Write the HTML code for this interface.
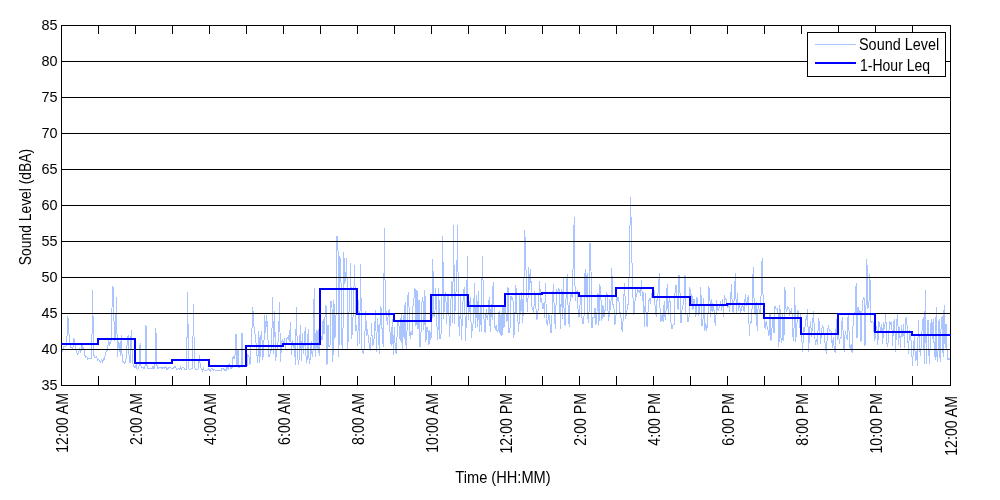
<!DOCTYPE html>
<html><head><meta charset="utf-8"><style>
html,body{margin:0;padding:0;background:#fff;width:1000px;height:500px;overflow:hidden}
svg{position:absolute;left:0;top:0}
text{font-family:"Liberation Sans",sans-serif;font-size:16px;fill:#000}
</style></head><body>
<svg width="1000" height="500" viewBox="0 0 1000 500">
<rect x="0" y="0" width="1000" height="500" fill="#fff"/>
<polyline fill="none" stroke="#aac4ff" stroke-width="1" shape-rendering="crispEdges" points="61.0,353.7 62.0,352.4 63.0,349.3 64.0,346.5 65.0,346.2 65.9,347.1 66.9,338.2 67.9,316.0 68.9,332.5 69.9,344.7 70.9,347.9 71.9,346.9 72.9,348.6 73.9,338.1 74.8,344.1 75.8,348.2 76.8,352.8 77.8,354.3 78.8,351.5 79.8,347.9 80.8,353.0 81.8,344.5 82.8,349.1 83.7,346.7 84.7,355.0 85.7,356.9 86.7,356.3 87.7,359.3 88.7,358.3 89.7,358.7 90.7,359.0 91.7,357.8 92.6,290.0 93.6,353.9 94.6,357.7 95.6,358.0 96.6,356.9 97.6,360.3 98.6,359.8 99.6,361.1 100.6,362.1 101.5,360.4 102.5,362.2 103.5,358.9 104.5,359.2 105.5,353.6 106.5,349.9 107.5,350.8 108.5,339.7 109.5,345.0 110.4,343.4 111.4,339.3 112.4,287.0 113.4,288.0 114.4,341.1 115.4,337.9 116.4,297.0 117.4,357.0 118.4,342.2 119.3,343.7 120.3,355.9 121.3,335.0 122.3,362.0 123.3,361.5 124.3,363.1 125.3,362.3 126.3,358.3 127.3,340.0 128.2,335.0 129.2,359.1 130.2,363.4 131.2,330.0 132.2,354.8 133.2,366.1 134.2,366.0 135.2,367.8 136.2,364.9 137.1,369.0 138.1,369.0 139.1,365.5 140.1,343.0 141.1,368.1 142.1,367.4 143.1,367.4 144.1,368.9 145.1,365.3 146.0,325.0 147.0,365.5 148.0,368.4 149.0,369.0 150.0,368.9 151.0,367.8 152.0,368.6 153.0,366.1 154.0,368.8 154.9,368.7 155.9,328.0 156.9,365.2 157.9,368.5 158.9,367.3 159.9,367.9 160.9,367.4 161.9,368.5 162.9,367.3 163.8,367.3 164.8,368.7 165.8,366.4 166.8,369.0 167.8,369.0 168.8,367.2 169.8,367.1 170.8,367.9 171.8,368.3 172.7,369.0 173.7,368.1 174.7,366.6 175.7,367.1 176.7,369.2 177.7,369.2 178.7,368.6 179.7,369.1 180.7,367.1 181.6,369.1 182.6,367.2 183.6,367.2 184.6,369.1 185.6,369.7 186.6,369.6 187.6,292.0 188.6,368.4 189.6,369.3 190.5,369.4 191.5,368.4 192.5,368.0 193.5,304.0 194.5,366.9 195.5,368.8 196.5,369.9 197.5,369.8 198.5,368.7 199.4,355.0 200.4,367.8 201.4,368.4 202.4,370.5 203.4,368.1 204.4,370.7 205.4,370.4 206.4,370.8 207.4,369.8 208.3,368.7 209.3,369.7 210.3,371.0 211.3,368.2 212.3,368.3 213.3,370.5 214.3,369.1 215.3,370.6 216.3,370.8 217.2,370.8 218.2,371.0 219.2,370.6 220.2,370.8 221.2,370.4 222.2,368.1 223.2,368.2 224.2,370.9 225.2,369.2 226.1,370.6 227.1,365.8 228.1,369.8 229.1,363.0 230.1,365.5 231.1,369.2 232.1,367.3 233.1,356.0 234.1,358.7 235.0,355.2 236.0,334.0 237.0,365.7 238.0,349.5 239.0,367.4 240.0,366.7 241.0,366.7 242.0,333.0 243.0,365.0 243.9,365.3 244.9,366.4 245.9,367.0 246.9,366.9 247.9,355.0 248.9,356.0 249.9,365.4 250.9,349.3 251.9,331.3 252.8,307.0 253.8,325.9 254.8,332.6 255.8,340.2 256.8,353.5 257.8,362.9 258.8,331.0 259.8,362.6 260.8,336.7 261.7,331.0 262.7,359.8 263.7,351.0 264.7,315.0 265.7,333.0 266.7,315.0 267.7,332.6 268.7,356.2 269.7,356.3 270.6,351.0 271.6,349.5 272.6,297.0 273.6,354.3 274.6,311.0 275.6,360.6 276.6,351.7 277.6,345.7 278.6,336.2 279.5,302.0 280.5,361.8 281.5,344.0 282.5,338.9 283.5,345.0 284.5,338.2 285.5,349.3 286.5,338.5 287.5,338.0 288.4,336.0 289.4,341.7 290.4,322.0 291.4,354.5 292.4,339.9 293.4,346.6 294.4,344.3 295.4,364.6 296.4,307.0 297.3,348.7 298.3,364.7 299.3,358.6 300.3,325.0 301.3,360.5 302.3,333.5 303.3,353.9 304.3,342.1 305.3,327.0 306.2,363.3 307.2,358.9 308.2,329.0 309.2,363.8 310.2,358.9 311.2,341.3 312.2,357.0 313.2,349.4 314.2,288.0 315.1,356.6 316.1,330.4 317.1,349.5 318.1,329.5 319.1,355.5 320.1,322.2 321.1,337.5 322.1,339.7 323.1,319.0 324.0,333.9 325.0,317.5 326.0,304.8 327.0,364.5 328.0,325.0 329.0,347.0 330.0,345.9 331.0,301.3 332.0,308.1 332.9,361.5 333.9,299.6 334.9,338.6 335.9,325.6 336.9,236.0 337.9,238.0 338.9,356.9 339.9,256.0 340.9,274.3 341.8,344.1 342.8,349.3 343.8,252.0 344.8,283.6 345.8,276.0 346.8,258.0 347.8,348.9 348.8,315.4 349.8,296.7 350.7,263.0 351.7,339.0 352.7,327.0 353.7,295.6 354.7,265.0 355.7,331.0 356.7,324.8 357.7,345.5 358.7,300.4 359.6,344.3 360.6,264.0 361.6,346.1 362.6,352.7 363.6,353.2 364.6,346.1 365.6,310.7 366.6,335.7 367.6,329.4 368.5,340.8 369.5,345.7 370.5,351.1 371.5,323.0 372.5,345.3 373.5,344.7 374.5,333.9 375.5,309.7 376.5,352.4 377.4,317.8 378.4,330.0 379.4,353.8 380.4,306.5 381.4,308.6 382.4,340.8 383.4,346.5 384.4,228.0 385.4,313.1 386.3,312.2 387.3,324.7 388.3,314.0 389.3,308.8 390.3,341.4 391.3,345.5 392.3,319.4 393.3,354.5 394.3,326.7 395.2,346.8 396.2,354.2 397.2,332.8 398.2,319.7 399.2,327.7 400.2,341.4 401.2,313.2 402.2,350.1 403.2,315.3 404.1,339.3 405.1,302.0 406.1,349.4 407.1,329.1 408.1,292.0 409.1,308.3 410.1,339.1 411.1,331.6 412.1,335.0 413.0,306.3 414.0,298.2 415.0,288.0 416.0,325.8 417.0,290.0 418.0,329.1 419.0,299.7 420.0,347.1 421.0,332.2 421.9,303.1 422.9,297.2 423.9,329.6 424.9,290.0 425.9,341.9 426.9,326.7 427.9,329.8 428.9,345.4 429.9,330.4 430.8,339.8 431.8,333.3 432.8,259.0 433.8,315.6 434.8,316.5 435.8,288.3 436.8,323.5 437.8,340.4 438.8,287.9 439.7,338.1 440.7,339.0 441.7,323.6 442.7,236.0 443.7,319.2 444.7,297.0 445.7,292.1 446.7,324.1 447.7,293.8 448.6,300.0 449.6,337.0 450.6,311.5 451.6,280.8 452.6,322.7 453.6,225.0 454.6,324.4 455.6,292.7 456.6,290.1 457.5,225.0 458.5,317.0 459.5,335.7 460.5,296.0 461.5,340.2 462.5,313.2 463.5,290.1 464.5,288.4 465.5,341.4 466.4,317.8 467.4,256.0 468.4,320.4 469.4,307.4 470.4,296.8 471.4,337.5 472.4,327.1 473.4,322.0 474.4,283.0 475.3,327.8 476.3,295.1 477.3,326.6 478.3,290.6 479.3,332.0 480.3,305.8 481.3,332.3 482.3,256.0 483.3,289.7 484.2,326.5 485.2,333.3 486.2,309.0 487.2,319.8 488.2,314.2 489.2,297.1 490.2,331.9 491.2,304.3 492.2,319.8 493.1,282.0 494.1,308.6 495.1,330.0 496.1,325.3 497.1,331.2 498.1,330.7 499.1,310.9 500.1,335.0 501.1,312.6 502.0,335.5 503.0,305.2 504.0,328.3 505.0,293.9 506.0,313.5 507.0,321.7 508.0,287.0 509.0,332.6 509.9,332.5 510.9,295.8 511.9,299.6 512.9,296.7 513.9,337.5 514.9,316.0 515.9,285.0 516.9,312.8 517.9,320.3 518.8,332.0 519.8,295.5 520.8,315.2 521.8,292.5 522.8,322.9 523.8,289.5 524.8,230.0 525.8,262.0 526.8,298.7 527.7,312.1 528.7,267.0 529.7,289.7 530.7,269.0 531.7,306.3 532.7,307.8 533.7,313.5 534.7,291.2 535.7,303.2 536.6,319.6 537.6,316.9 538.6,301.6 539.6,281.0 540.6,301.0 541.6,299.3 542.6,308.7 543.6,303.1 544.6,318.1 545.5,283.0 546.5,322.3 547.5,326.0 548.5,314.3 549.5,315.5 550.5,332.4 551.5,332.1 552.5,297.8 553.5,284.0 554.4,316.9 555.4,329.1 556.4,289.0 557.4,293.4 558.4,289.0 559.4,289.4 560.4,328.6 561.4,289.0 562.4,319.3 563.3,277.0 564.3,320.1 565.3,326.3 566.3,288.9 567.3,274.0 568.3,317.6 569.3,326.6 570.3,292.4 571.3,293.0 572.2,298.0 573.2,262.0 574.2,217.0 575.2,301.4 576.2,292.5 577.2,290.2 578.2,313.3 579.2,317.3 580.2,302.4 581.1,295.4 582.1,320.2 583.1,323.9 584.1,314.7 585.1,269.0 586.1,298.1 587.1,273.0 588.1,323.1 589.1,310.7 590.0,243.0 591.0,271.0 592.0,328.0 593.0,317.0 594.0,318.0 595.0,308.0 596.0,324.5 597.0,311.6 598.0,293.0 598.9,325.7 599.9,284.0 600.9,297.5 601.9,320.8 602.9,304.7 603.9,317.3 604.9,312.2 605.9,297.8 606.9,292.2 607.8,308.4 608.8,321.4 609.8,299.0 610.8,310.0 611.8,268.0 612.8,304.9 613.8,304.8 614.8,325.4 615.8,320.8 616.7,294.9 617.7,300.9 618.7,296.7 619.7,313.3 620.7,312.8 621.7,328.9 622.7,330.8 623.7,299.3 624.7,283.0 625.6,318.7 626.6,312.3 627.6,307.1 628.6,301.0 629.6,245.0 630.6,197.0 631.6,245.0 632.6,287.5 633.6,313.9 634.5,312.9 635.5,289.2 636.5,297.3 637.5,288.2 638.5,291.6 639.5,290.6 640.5,296.1 641.5,280.0 642.5,301.0 643.4,291.6 644.4,326.5 645.4,292.7 646.4,324.5 647.4,326.1 648.4,303.4 649.4,297.8 650.4,303.7 651.4,295.1 652.3,291.6 653.3,292.8 654.3,289.7 655.3,311.3 656.3,316.8 657.3,293.9 658.3,292.7 659.3,273.0 660.3,321.9 661.2,321.0 662.2,313.2 663.2,322.3 664.2,301.5 665.2,320.4 666.2,309.4 667.2,284.0 668.2,314.9 669.2,298.3 670.1,301.8 671.1,325.0 672.1,328.8 673.1,324.4 674.1,324.4 675.1,289.8 676.1,285.0 677.1,297.0 678.1,310.1 679.0,275.0 680.0,293.0 681.0,323.2 682.0,310.2 683.0,305.0 684.0,299.5 685.0,275.0 686.0,313.7 687.0,312.8 687.9,321.4 688.9,320.6 689.9,287.0 690.9,305.1 691.9,293.6 692.9,310.1 693.9,298.9 694.9,302.7 695.9,317.4 696.8,297.2 697.8,300.8 698.8,316.0 699.8,308.0 700.8,287.0 701.8,325.6 702.8,325.5 703.8,297.6 704.8,330.8 705.7,323.1 706.7,328.9 707.7,326.6 708.7,286.0 709.7,293.9 710.7,317.2 711.7,298.7 712.7,311.9 713.7,304.5 714.6,321.6 715.6,325.7 716.6,299.8 717.6,309.5 718.6,310.3 719.6,305.8 720.6,301.0 721.6,310.7 722.6,299.4 723.5,317.0 724.5,295.3 725.5,299.9 726.5,300.0 727.5,308.0 728.5,302.8 729.5,311.8 730.5,300.4 731.5,284.0 732.4,310.8 733.4,313.2 734.4,292.7 735.4,273.0 736.4,314.3 737.4,292.7 738.4,310.9 739.4,301.7 740.4,312.0 741.3,310.7 742.3,304.0 743.3,307.4 744.3,312.0 745.3,294.1 746.3,305.7 747.3,302.4 748.3,295.1 749.3,335.5 750.2,321.7 751.2,322.1 752.2,306.3 753.2,267.0 754.2,304.3 755.2,314.8 756.2,302.2 757.2,331.1 758.2,304.1 759.1,309.4 760.1,312.9 761.1,294.2 762.1,258.0 763.1,296.9 764.1,320.2 765.1,328.9 766.1,321.1 767.1,326.3 768.0,330.0 769.0,335.9 770.0,312.7 771.0,340.5 772.0,328.0 773.0,319.1 774.0,333.4 775.0,305.9 776.0,308.8 776.9,309.3 777.9,308.6 778.9,347.1 779.9,305.1 780.9,337.8 781.9,343.0 782.9,313.1 783.9,341.0 784.9,287.0 785.8,307.9 786.8,311.5 787.8,306.7 788.8,307.7 789.8,314.3 790.8,312.5 791.8,307.7 792.8,335.5 793.8,340.5 794.7,287.0 795.7,341.5 796.7,328.3 797.7,310.3 798.7,313.3 799.7,328.2 800.7,312.7 801.7,336.9 802.7,351.6 803.6,326.8 804.6,331.5 805.6,320.0 806.6,318.9 807.6,309.0 808.6,351.9 809.6,329.7 810.6,321.5 811.6,337.2 812.5,324.8 813.5,311.0 814.5,333.9 815.5,344.7 816.5,339.4 817.5,345.0 818.5,318.0 819.5,323.4 820.5,343.9 821.4,333.1 822.4,324.7 823.4,328.6 824.4,335.1 825.4,347.6 826.4,353.6 827.4,333.7 828.4,325.4 829.4,331.6 830.3,330.6 831.3,331.5 832.3,347.6 833.3,336.9 834.3,350.2 835.3,353.1 836.3,318.7 837.3,340.1 838.3,322.1 839.2,343.7 840.2,337.6 841.2,337.7 842.2,317.1 843.2,332.2 844.2,351.9 845.2,331.4 846.2,335.6 847.2,339.5 848.1,315.0 849.1,332.7 850.1,349.2 851.1,344.3 852.1,352.6 853.1,323.1 854.1,312.0 855.1,315.4 856.1,283.0 857.0,338.4 858.0,307.0 859.0,314.9 860.0,310.2 861.0,341.7 862.0,311.4 863.0,299.9 864.0,297.3 865.0,345.8 865.9,310.6 866.9,259.0 867.9,308.7 868.9,304.3 869.9,274.0 870.9,321.7 871.9,322.2 872.9,320.9 873.9,330.2 874.8,341.4 875.8,327.7 876.8,326.3 877.8,345.1 878.8,321.4 879.8,324.9 880.8,333.4 881.8,323.6 882.8,343.8 883.7,321.7 884.7,328.8 885.7,313.0 886.7,342.8 887.7,346.8 888.7,333.6 889.7,321.2 890.7,324.3 891.7,322.0 892.6,345.9 893.6,322.8 894.6,318.8 895.6,352.0 896.6,322.9 897.6,313.0 898.6,345.0 899.6,327.4 900.6,348.0 901.5,325.4 902.5,337.3 903.5,323.6 904.5,347.6 905.5,319.2 906.5,318.0 907.5,331.3 908.5,353.5 909.5,329.6 910.4,337.6 911.4,341.1 912.4,366.1 913.4,349.1 914.4,336.2 915.4,360.8 916.4,351.0 917.4,366.0 918.4,319.7 919.3,343.2 920.3,355.6 921.3,345.5 922.3,324.8 923.3,317.3 924.3,363.6 925.3,290.0 926.3,364.0 927.3,322.8 928.2,319.6 929.2,364.1 930.2,346.9 931.2,318.6 932.2,339.3 933.2,318.6 934.2,347.7 935.2,359.6 936.2,307.0 937.1,362.2 938.1,350.3 939.1,318.6 940.1,362.1 941.1,326.0 942.1,315.7 943.1,356.7 944.1,305.0 945.1,348.0 946.0,323.6 947.0,349.6 948.0,360.2 949.0,358.0 950.0,359.8"/>
<path d="M61 349.5H951M61 313.5H951M61 277.5H951M61 241.5H951M61 205.5H951M61 169.5H951M61 133.5H951M61 97.5H951M61 61.5H951M98.5 25v9M98.5 386v-10M135.5 25v9M135.5 386v-10M172.5 25v9M172.5 386v-10M209.5 25v9M209.5 386v-10M246.5 25v9M246.5 386v-10M283.5 25v9M283.5 386v-10M320.5 25v9M320.5 386v-10M357.5 25v9M357.5 386v-10M394.5 25v9M394.5 386v-10M431.5 25v9M431.5 386v-10M468.5 25v9M468.5 386v-10M505.5 25v9M505.5 386v-10M542.5 25v9M542.5 386v-10M579.5 25v9M579.5 386v-10M616.5 25v9M616.5 386v-10M653.5 25v9M653.5 386v-10M690.5 25v9M690.5 386v-10M727.5 25v9M727.5 386v-10M764.5 25v9M764.5 386v-10M801.5 25v9M801.5 386v-10M838.5 25v9M838.5 386v-10M875.5 25v9M875.5 386v-10M912.5 25v9M912.5 386v-10M61.5 25V386M950.5 25V386M61 25.5H951M61 385.5H951" stroke="#000" stroke-width="1" fill="none" shape-rendering="crispEdges"/>
<polyline fill="none" stroke="#0000ff" stroke-width="2" stroke-linejoin="miter" shape-rendering="crispEdges" points="61,344 98,344 98,339 135,339 135,363 172,363 172,360 209,360 209,366 246,366 246,346 283,346 283,344 320,344 320,289 357,289 357,314 394,314 394,321 431,321 431,295 468,295 468,306 505,306 505,294 542,294 542,293 579,293 579,296 616,296 616,288 653,288 653,297 690,297 690,305 727,305 727,304 764,304 764,318 801,318 801,334 838,334 838,314 875,314 875,332 912,332 912,335 951,335"/>
<rect x="807.5" y="32.5" width="138" height="44" fill="#fff" stroke="#000" stroke-width="1" shape-rendering="crispEdges"/>
<path d="M815 44.5H856" stroke="#aac4ff" stroke-width="1" shape-rendering="crispEdges"/>
<path d="M815 63H856" stroke="#0000ff" stroke-width="2" shape-rendering="crispEdges"/>
</svg>
<svg width="1000" height="500" viewBox="0 0 1000 500" style="will-change:transform">
<text style="font-size:15.5px" x="57.5" y="389.6" text-anchor="end" textLength="16.05" lengthAdjust="spacingAndGlyphs">35</text>
<text style="font-size:15.5px" x="57.5" y="353.6" text-anchor="end" textLength="16.05" lengthAdjust="spacingAndGlyphs">40</text>
<text style="font-size:15.5px" x="57.5" y="317.6" text-anchor="end" textLength="16.05" lengthAdjust="spacingAndGlyphs">45</text>
<text style="font-size:15.5px" x="57.5" y="281.6" text-anchor="end" textLength="16.05" lengthAdjust="spacingAndGlyphs">50</text>
<text style="font-size:15.5px" x="57.5" y="245.6" text-anchor="end" textLength="16.05" lengthAdjust="spacingAndGlyphs">55</text>
<text style="font-size:15.5px" x="57.5" y="209.6" text-anchor="end" textLength="16.05" lengthAdjust="spacingAndGlyphs">60</text>
<text style="font-size:15.5px" x="57.5" y="173.6" text-anchor="end" textLength="16.05" lengthAdjust="spacingAndGlyphs">65</text>
<text style="font-size:15.5px" x="57.5" y="137.6" text-anchor="end" textLength="16.05" lengthAdjust="spacingAndGlyphs">70</text>
<text style="font-size:15.5px" x="57.5" y="101.6" text-anchor="end" textLength="16.05" lengthAdjust="spacingAndGlyphs">75</text>
<text style="font-size:15.5px" x="57.5" y="65.6" text-anchor="end" textLength="16.05" lengthAdjust="spacingAndGlyphs">80</text>
<text style="font-size:15.5px" x="57.5" y="29.6" text-anchor="end" textLength="16.05" lengthAdjust="spacingAndGlyphs">85</text>
<text transform="translate(67.5,393) rotate(-90)" text-anchor="end" textLength="59.75" lengthAdjust="spacingAndGlyphs">12:00 AM</text>
<text transform="translate(141.5,393) rotate(-90)" text-anchor="end" textLength="51.89" lengthAdjust="spacingAndGlyphs">2:00 AM</text>
<text transform="translate(215.5,393) rotate(-90)" text-anchor="end" textLength="51.89" lengthAdjust="spacingAndGlyphs">4:00 AM</text>
<text transform="translate(289.5,393) rotate(-90)" text-anchor="end" textLength="51.89" lengthAdjust="spacingAndGlyphs">6:00 AM</text>
<text transform="translate(363.5,393) rotate(-90)" text-anchor="end" textLength="51.89" lengthAdjust="spacingAndGlyphs">8:00 AM</text>
<text transform="translate(437.5,393) rotate(-90)" text-anchor="end" textLength="59.75" lengthAdjust="spacingAndGlyphs">10:00 AM</text>
<text transform="translate(511.5,393) rotate(-90)" text-anchor="end" textLength="60.54" lengthAdjust="spacingAndGlyphs">12:00 PM</text>
<text transform="translate(585.5,393) rotate(-90)" text-anchor="end" textLength="52.66" lengthAdjust="spacingAndGlyphs">2:00 PM</text>
<text transform="translate(659.5,393) rotate(-90)" text-anchor="end" textLength="52.66" lengthAdjust="spacingAndGlyphs">4:00 PM</text>
<text transform="translate(733.5,393) rotate(-90)" text-anchor="end" textLength="52.66" lengthAdjust="spacingAndGlyphs">6:00 PM</text>
<text transform="translate(807.5,393) rotate(-90)" text-anchor="end" textLength="52.66" lengthAdjust="spacingAndGlyphs">8:00 PM</text>
<text transform="translate(881.5,393) rotate(-90)" text-anchor="end" textLength="60.54" lengthAdjust="spacingAndGlyphs">10:00 PM</text>
<text transform="translate(956.5,396) rotate(-90)" text-anchor="end" textLength="59.75" lengthAdjust="spacingAndGlyphs">12:00 AM</text>
<text x="503" y="483" text-anchor="middle" textLength="95.36" lengthAdjust="spacingAndGlyphs">Time (HH:MM)</text>
<text transform="translate(31,207) rotate(-90)" text-anchor="middle" textLength="116.36" lengthAdjust="spacingAndGlyphs">Sound Level (dBA)</text>
<text x="859" y="50" text-anchor="start" textLength="80.18" lengthAdjust="spacingAndGlyphs">Sound Level</text>
<text x="860" y="71" text-anchor="start" textLength="70.05" lengthAdjust="spacingAndGlyphs">1-Hour Leq</text>
</svg></body></html>
